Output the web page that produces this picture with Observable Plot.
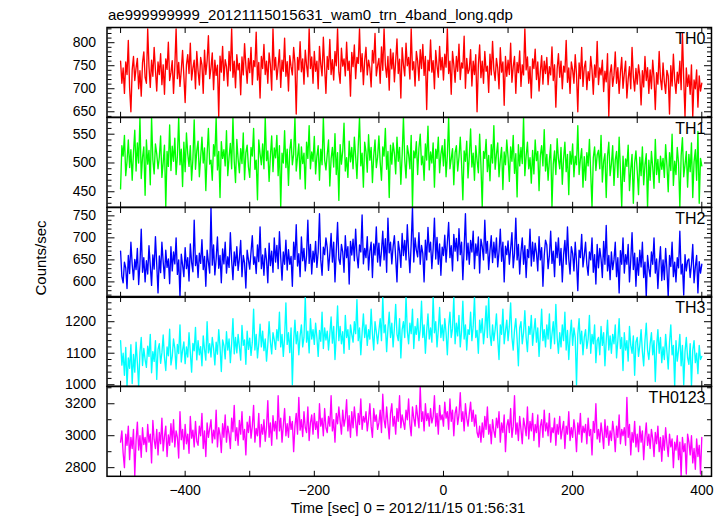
<!DOCTYPE html>
<html><head><meta charset="utf-8">
<script src="https://cdn.jsdelivr.net/npm/d3@7"></script>
<script src="https://cdn.jsdelivr.net/npm/@observablehq/plot@0.6"></script>
<style>
html,body{margin:0;padding:0;background:#fff;}
#chart{position:relative;width:723px;height:516px;overflow:hidden;background:#fff;font-family:"Liberation Sans",Arial,Helvetica,sans-serif;}
#chart svg{position:absolute;left:0;}
</style></head><body><div id="chart"></div>
<script>
// time axis of the light curve: first sample and sample spacing [sec]
const tStart = -500, tStep = 2;

const th0 = [
760,712,745,690,758,731,805,702,650,741,
770,718,745,766,700,739,684,757,780,725,
712,830,748,703,762,727,790,740,695,758,
731,776,709,752,688,765,742,801,718,735,
761,690,748,830,722,757,705,740,783,728,
670,752,774,733,799,719,745,762,700,781,
739,708,768,752,690,784,731,760,815,722,
745,778,698,762,729,751,640,771,736,792,
718,763,748,706,781,739,830,725,760,702,
774,741,755,687,769,730,798,751,712,766,
735,790,709,761,748,823,719,757,680,770,
744,796,731,760,712,778,752,697,830,741,
768,720,749,785,703,762,738,810,727,759,
695,772,748,730,790,756,645,768,741,802,
737,765,710,784,751,726,830,744,769,712,
781,738,760,700,792,753,728,812,745,690,
770,742,807,731,763,719,781,750,830,736,
712,788,749,765,728,801,740,760,684,779,
748,795,722,768,755,830,737,776,709,761,
790,730,762,745,704,783,756,820,728,750,
766,712,791,740,830,751,725,770,697,786,
743,778,715,760,808,733,764,680,789,752,
728,799,750,768,721,830,741,759,706,781,
760,718,785,744,796,729,770,655,762,739,
806,736,761,700,783,750,725,792,741,768,
719,775,747,830,733,760,688,781,752,714,
770,738,797,720,756,745,814,701,766,733,
742,785,706,760,731,774,650,752,795,724,
760,712,781,738,749,692,775,730,803,741,
718,766,745,700,789,736,758,664,770,727,
762,731,799,714,748,770,690,757,735,782,
705,752,730,830,741,769,712,748,680,765,
744,786,720,758,695,737,772,710,760,733,
768,709,748,730,791,718,752,660,743,776,
725,760,700,749,736,805,714,745,690,758,
741,712,774,731,650,756,722,790,705,746,
760,698,737,718,770,741,688,752,725,803,
709,745,730,762,694,738,715,776,640,734,
752,705,729,780,712,746,690,735,768,701,
733,760,680,721,748,700,790,725,695,744,
710,752,728,665,739,704,770,718,746,690,
741,700,762,724,655,735,710,781,722,698,
756,715,690,740,728,645,750,706,775,719,
690,736,712,760,698,820,721,640,745,705,
730,688,752,640,719,700,741,660,728,695,
712];

const th1 = [
455,530,512,548,478,503,540,492,523,470,
518,557,486,535,500,579,473,510,528,444,
540,498,522,462,579,505,481,533,516,490,
510,547,475,501,531,423,520,494,566,487,
529,503,543,480,512,579,497,524,459,536,
485,552,516,494,530,470,507,575,489,521,
538,476,509,545,500,526,452,515,560,498,
505,470,532,512,579,488,520,440,537,508,
523,495,556,478,510,534,490,579,503,466,
541,507,483,525,499,552,471,518,531,493,
475,527,512,560,489,505,436,540,516,497,
533,490,579,504,521,468,512,547,485,526,
509,548,478,530,423,517,500,556,492,524,
461,522,541,497,515,579,486,510,533,472,
528,499,517,455,536,508,565,490,519,503,
546,481,512,530,470,524,497,579,505,488,
515,540,460,507,527,493,551,480,518,435,
532,498,521,569,486,509,475,538,502,527,
490,545,511,473,529,579,495,517,458,536,
520,484,549,505,527,466,513,540,492,510,
547,501,470,528,512,560,489,520,440,531,
498,535,517,481,545,503,527,463,514,579,
506,474,530,515,490,548,423,521,509,537,
480,526,550,497,512,470,533,505,564,488,
519,500,535,458,524,508,545,483,515,530,
495,541,476,513,579,490,507,525,462,518,
530,486,510,545,499,436,521,503,538,474,
512,559,493,517,470,530,505,483,550,496,
423,520,508,541,485,513,469,532,500,565,
489,515,535,476,506,527,454,519,497,540,
510,468,528,503,548,482,516,441,532,495,
527,499,579,478,512,536,490,509,465,522,
481,540,504,520,452,513,530,495,558,486,
515,470,505,532,423,498,521,480,542,507,
490,527,463,508,536,485,515,445,520,498,
533,476,512,497,565,480,506,525,458,511,
470,518,495,541,482,423,509,528,487,514,
522,490,548,467,503,516,440,512,536,478,
498,530,461,505,520,475,545,488,423,512,
468,507,494,531,452,489,515,430,500,521,
486,445,510,478,528,462,497,516,423,505,
470,520,493,456,541,480,506,466,512,489,
508,475,532,496,450,518,487,550,461,503,
480,527,500,423,512,544,476,497,520,458,
515,485,535,440,502,523,470,555,430,508,
495];

const th2 = [
670,612,598,645,632,585,660,619,690,640,
605,651,628,676,594,640,720,622,655,600,
648,618,682,637,592,661,629,703,640,575,
659,621,690,645,608,672,633,652,596,680,
625,668,641,700,617,650,565,663,639,612,
678,630,655,602,686,644,623,740,637,660,
610,665,642,696,628,658,590,672,645,620,
769,638,684,616,652,702,631,660,598,675,
641,690,620,657,633,712,649,605,668,637,
680,626,654,694,612,660,643,586,672,650,
629,668,705,640,657,619,684,646,725,630,
661,615,676,650,598,688,637,670,622,700,
645,683,630,714,655,604,668,640,695,627,
673,640,658,590,690,651,730,636,664,612,
702,648,676,625,660,740,642,685,618,670,
645,692,633,668,755,650,615,679,662,700,
678,626,664,710,645,690,600,671,735,652,
640,685,668,622,705,655,680,595,692,661,
697,648,720,660,632,684,668,752,641,676,
655,703,627,670,690,610,686,661,725,645,
688,636,670,715,650,698,622,745,666,690,
641,680,705,655,600,692,671,633,710,660,
694,650,730,668,621,686,769,645,700,672,
657,712,640,683,665,600,695,650,724,668,
690,630,676,745,652,701,640,686,615,679,
660,706,645,690,735,655,682,625,708,670,
699,648,721,662,690,605,676,755,650,688,
640,694,668,715,630,686,660,702,620,697,
680,650,740,665,692,628,671,705,644,690,
655,700,634,668,720,647,690,600,681,662,
693,640,676,712,632,665,745,650,685,618,
668,700,640,682,610,674,655,720,636,690,
647,688,666,625,703,650,678,590,660,695,
684,630,660,715,642,670,612,690,655,700,
638,676,600,662,694,640,725,652,618,680,
665,625,690,646,580,672,655,708,634,660,
690,640,615,668,650,700,622,662,595,685,
632,676,652,610,692,640,728,625,660,605,
668,628,650,690,612,655,575,671,640,700,
620,662,640,685,600,650,712,628,665,590,
655,615,672,634,690,610,645,565,660,630,
612,668,640,700,620,652,585,642,680,603,
650,605,676,628,565,660,635,690,612,645,
600,655,632,715,618,640,570,662,625,648,
652,610,640,685,598,634,660,575,646,620,
640];

const th3 = [
1140,1062,1100,1030,1118,995,1085,1052,1127,1004,
1096,1040,1135,1070,995,1102,1150,1061,1115,1080,
1055,1122,1090,1160,1038,1105,1074,1140,1017,1112,
1130,1068,1101,1158,1085,1045,1120,1092,1176,1063,
1090,1145,1115,1050,1128,1099,1190,1072,1110,1136,
1067,1120,1088,1165,1102,1040,1131,1108,1182,1079,
1140,1095,1121,1060,1155,1112,1078,1200,1101,1130,
1088,1150,1116,1063,1135,1097,1175,1120,1042,1142,
1125,1082,1168,1110,1145,1070,1130,1210,1098,1150,
1101,1160,1120,1078,1188,1125,1142,1065,1170,1112,
1148,1093,1135,1240,1110,1160,1085,1131,1192,1120,
1170,1108,1145,1075,1128,1200,1136,1098,1165,1142,
1112,1175,1140,1230,1120,1160,1090,1150,1260,1128,
1165,1102,1180,1000,1140,1205,1130,1168,1095,1155,
1190,1120,1150,1280,1135,1170,1101,1210,1145,1175,
1128,1195,1150,1090,1172,1138,1230,1115,1180,1142,
1170,1110,1160,1215,1132,1185,1080,1155,1250,1140,
1185,1130,1168,1100,1220,1150,1175,1112,1190,1160,
1135,1200,1162,1270,1140,1180,1095,1165,1225,1150,
1190,1125,1175,1145,1240,1160,1110,1200,1168,1130,
1172,1210,1140,1280,1165,1190,1105,1178,1230,1150,
1195,1120,1180,1255,1160,1140,1210,1085,1175,1200,
1150,1280,1170,1130,1195,1162,1240,1115,1185,1160,
1210,1140,1175,1265,1150,1190,1100,1170,1225,1145,
1180,1135,1280,1165,1200,1120,1175,1245,1150,1190,
1140,1210,1165,1095,1185,1230,1150,1178,1280,1130,
1195,1155,1220,1120,1170,1265,1145,1190,1110,1175,
1160,1230,1140,1185,1280,1150,1172,1100,1205,1165,
1210,1130,1175,1250,1150,1280,1160,1125,1190,1140,
1175,1225,1145,1080,1190,1160,1240,1130,1170,1205,
1140,1185,1260,1150,1110,1175,1210,1145,1060,1180,
1200,1130,1165,1235,1150,1105,1185,1160,1220,1125,
1170,1210,1135,1180,1090,1160,1240,1140,1175,1120,
1190,1145,1225,1115,1160,1200,1130,1255,1150,1100,
1165,1120,1190,1140,1230,1110,1172,1080,1155,1205,
1125,1180,1150,1000,1160,1210,1130,1170,1095,1150,
1175,1115,1145,1220,1100,1160,1130,1190,1070,1140,
1150,1095,1185,1125,1165,1060,1140,1205,1110,1155,
1100,1160,1130,1190,1085,1140,1210,1115,1150,1045,
1165,1110,1140,1075,1185,1125,1100,1155,1030,1135,
1150,1090,1125,1175,1105,1060,1140,1195,1110,1080,
1130,1165,1095,1140,1010,1120,1175,1100,1150,1070,
1120,1080,1160,1105,1050,1135,1190,1095,1125,995,
1140,1075,1110,1160,1060,1125,1000,1105,1150,1085,
1065,1130,995,1110,1140,1070,1100,1035,1125,1080,
1090];

const th0123 = [
2960,3030,2890,2800,3010,2940,3060,2850,2990,2920,
3040,2750,2970,3085,2910,3000,2865,3050,2945,2990,
2900,3070,2960,3010,2830,3095,2975,2920,3040,2880,
3020,2950,3110,2905,2995,3060,2870,3005,2940,3075,
2960,3100,2930,3030,2990,2860,3150,2975,3040,2915,
3070,2950,3010,2890,3120,2985,3035,2930,3090,2965,
2940,3060,3000,3140,2920,3030,2870,3080,2990,3045,
3100,2955,3035,2980,3160,2930,3050,3005,2895,3075,
2990,3130,2960,3060,3010,2920,3110,3025,3190,2970,
3050,2940,3095,3010,3150,2975,3040,2880,3085,3020,
3120,2985,3060,3190,2960,3045,3000,3140,2930,3070,
3010,3100,2965,3055,3220,2990,3080,2940,3125,3030,
3090,2980,3250,3030,3110,2960,3065,3170,3000,3075,
2990,3120,3040,3090,2900,3060,3140,3010,3240,3035,
3100,2995,3150,3050,3020,3180,2970,3080,3130,3010,
3140,3040,3090,2985,3200,3060,3110,3000,3170,3050,
3020,3120,3060,3250,3030,3100,2960,3140,3075,3180,
3090,3010,3160,3060,3110,3225,3030,3125,2990,3150,
3050,3180,3090,3000,3140,3070,3230,3040,3120,3085,
3150,3030,3100,3200,3060,2990,3170,3090,3130,3040,
3080,3160,3020,3260,3100,3050,3180,3075,2980,3140,
3200,3060,3120,3010,3170,3090,3250,3050,3130,3085,
3040,3160,3100,3230,3070,3000,3180,3110,3060,3190,
3120,3050,3308,3090,3150,3030,3200,3095,3140,3060,
3170,3080,3120,3250,3060,3140,3010,3190,3100,3130,
3060,3210,3110,3150,3040,3230,3090,3160,3000,3140,
3180,3070,3130,3270,3090,3150,3030,3200,3110,3060,
3140,3210,3090,3160,3060,3130,3020,2990,3060,2960,
3080,2990,3120,3040,3180,3010,3070,2950,3100,3030,
2990,3110,3050,3150,2960,3080,3020,3130,2900,3060,
3100,3020,3170,2990,3060,3250,3010,3080,2970,3120,
3040,2950,3110,3060,3000,3180,2980,3090,3030,3140,
2970,3070,3020,3130,2930,3060,3100,2990,3160,3030,
3080,3000,3140,2960,3050,3020,3110,2940,3070,3010,
3120,2980,3040,3090,2920,3060,3010,3150,2970,3050,
2990,3100,3030,2900,3080,3010,3140,2960,3060,3020,
3070,2950,3110,3000,3040,2880,3090,3020,3200,2980,
3040,2960,3080,3010,2920,3100,2990,3060,2940,3030,
2970,3090,3020,2900,3060,2990,3130,2950,3040,3000,
3050,2940,3240,2990,3070,2880,3020,2960,3090,2930,
3010,2900,3060,2960,3030,2850,2990,3080,2940,3010,
2920,3040,2980,2870,3020,2950,3060,2900,2990,2840,
3000,2910,3050,2950,2870,3010,2930,2980,2800,2960,
2910,3000,2850,2960,2746,2990,2900,2950,2760,3010,
2960,2880,3000,2830,2920,2790,2980,2870,2940,2760,
2990];

const panelNames = ["TH0","TH1","TH2","TH3","TH0123"];
const panelColors = ["#ff0000","#00ff00","#0000ff","#00ffff","#ff00ff"];
const panelDomains = [[638,833],[423,579],[565,769],[995,1280],[2746,3308]];
const majorTicks = [[650,700,750,800],[450,500,550],[600,650,700,750],[1000,1100,1200],[2800,3000,3200]];
const minorSteps = [10,10,10,20,100];
const xTicks = [-500,-400,-300,-200,-100,0,100,200,300,400];
const xLabels = [-400,-200,0,200,400];
const xDomain = [-521,415];
const titleText = "ae999999999_20121115015631_wam0_trn_4band_long.qdp";
const xTitle = "Time [sec] 0 = 2012/11/15 01:56:31";
const yTitle = "Counts/sec";

const series = [th0, th1, th2, th3, th0123];
const chart = document.getElementById("chart");
const W = 723, mL = 106.5, mR = 12, top0 = 27, ph = 89.8;
const iw = W - mL - mR;
const font = '"Liberation Sans",Arial,Helvetica,sans-serif';
const fmt = d3.format("d");

series.forEach((vals, i) => {
  const last = i === series.length - 1;
  const mT = 8, mB = last ? 45 : 8;
  const dom = panelDomains[i];
  const step = minorSteps[i];
  const minor = d3.range(Math.ceil(dom[0]/step)*step, dom[1]+0.001, step).filter(v => !majorTicks[i].includes(v));
  const data = vals.map((v, k) => ({t: tStart + k * tStep, v}));
  const tk = {fill: "none", label: null, stroke: "black"};
  const marks = [
    Plot.lineY(data, {x: "t", y: "v", stroke: panelColors[i], strokeWidth: 1.35}),
    // inward ticks: draw the opposite-side axis shifted across the frame
    Plot.axisY({...tk, anchor: "right", ticks: minor, tickSize: 4, dx: -iw}),
    Plot.axisY({...tk, anchor: "left", ticks: minor, tickSize: 4, dx: iw}),
    Plot.axisY({...tk, anchor: "right", ticks: majorTicks[i], tickSize: 7, dx: -iw}),
    Plot.axisY({...tk, anchor: "left", ticks: majorTicks[i], tickSize: 7, dx: iw}),
    Plot.axisX({...tk, anchor: "top", ticks: xTicks, tickSize: 6, dy: ph}),
    Plot.axisX({...tk, anchor: "bottom", ticks: xTicks, tickSize: 6, dy: -ph}),
    Plot.axisY({anchor: "left", ticks: majorTicks[i], tickSize: 0, tickPadding: 11, tickFormat: fmt, label: null, fontSize: 14}),
    Plot.frame({stroke: "black", strokeWidth: 1.5}),
    Plot.text([panelNames[i]], {frameAnchor: "top-right", text: d => d, dx: -6, dy: 16.5, lineAnchor: "bottom", fontSize: 16, fill: "black"})
  ];
  if (last) marks.push(Plot.axisX({anchor: "bottom", ticks: xLabels, tickSize: 0, tickPadding: 9, label: null, fontSize: 14}));
  const svg = Plot.plot({
    width: W, height: ph + mT + mB,
    marginLeft: mL, marginRight: mR, marginTop: mT, marginBottom: mB,
    style: {background: "transparent", overflow: "visible", fontFamily: font, fontSize: "14px", color: "black"},
    x: {domain: xDomain},
    y: {domain: dom},
    marks
  });
  svg.style.top = (top0 + i * ph - mT) + "px";
  chart.appendChild(svg);
});

const ns = "http://www.w3.org/2000/svg";
const ov = document.createElementNS(ns, "svg");
ov.setAttribute("width", W); ov.setAttribute("height", 516);
ov.style.top = "0px"; ov.style.pointerEvents = "none";
function addText(str, attrs) {
  const t = document.createElementNS(ns, "text");
  for (const k in attrs) t.setAttribute(k, attrs[k]);
  t.setAttribute("font-family", font);
  t.textContent = str;
  ov.appendChild(t);
}
addText(titleText, {x: 108, y: 20, "font-size": 15});
addText(xTitle, {x: 408, y: 513, "font-size": 15, "text-anchor": "middle"});
addText(yTitle, {transform: "translate(45.5,258) rotate(-90)", "font-size": 15, "text-anchor": "middle"});
chart.appendChild(ov);
</script></body></html>
